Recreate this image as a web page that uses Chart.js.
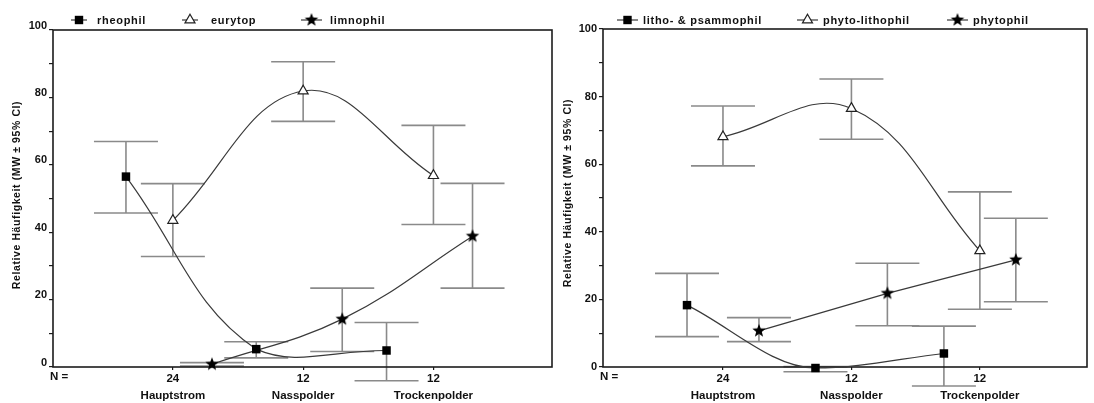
<!DOCTYPE html>
<html><head><meta charset="utf-8">
<script src="https://cdn.jsdelivr.net/npm/chart.js@4.4.1/dist/chart.umd.min.js"></script>
<style>
html,body{margin:0;padding:0;background:#fff;width:1094px;height:403px;overflow:hidden;}
canvas{position:absolute;top:0;}
#c1{left:0;}
#c2{left:560px;}
</style></head><body>
<canvas id="c1" width="560" height="403"></canvas>
<canvas id="c2" width="534" height="403"></canvas>
<script>
// ---------- data ----------
const categories = ['Hauptstrom', 'Nasspolder', 'Trockenpolder'];
const nLabels = ['24', '12', '12'];
const nPrefix = 'N =';
const yTitle = 'Relative Häufigkeit (MW ± 95% CI)';
const yMin = 0, yMax = 100, yStep = 10, yLabelStep = 20;

// left panel
const leftLabels = ['rheophil', 'eurytop', 'limnophil'];
const rheophilMean = [56.5, 5.3, 4.9];
const rheophilLow  = [45.7, 2.7, -4.1];
const rheophilHigh = [66.9, 7.5, 13.2];
const eurytopMean  = [43.5, 81.9, 56.8];
const eurytopLow   = [32.8, 72.9, 42.3];
const eurytopHigh  = [54.4, 90.6, 71.7];
const limnophilMean = [0.8, 14.2, 38.8];
const limnophilLow  = [0.3, 4.6, 23.4];
const limnophilHigh = [1.3, 23.4, 54.5];

// right panel
const rightLabels = ['litho- & psammophil', 'phyto-lithophil', 'phytophil'];
const lithoMean = [18.3, -0.3, 4.0];
const lithoLow  = [9.0, -1.4, -5.6];
const lithoHigh = [27.7, 0.1, 12.1];
const phytoLithoMean = [68.1, 76.5, 34.4];
const phytoLithoLow  = [59.5, 67.4, 17.1];
const phytoLithoHigh = [77.2, 85.2, 51.8];
const phytophilMean = [10.7, 21.8, 31.7];
const phytophilLow  = [7.5, 12.2, 19.3];
const phytophilHigh = [14.6, 30.7, 44.0];

// ---------- styling helpers ----------
const FONT = "'Liberation Sans', Arial, Helvetica, sans-serif";
const LINE_COLOR = '#3a3a3a';
const ERR_COLOR = '#8a8a8a';
const AXIS_COLOR = '#1c1c1c';

function makeStar(R) {
  const s = Math.ceil(R * 2 + 2);
  const c = document.createElement('canvas');
  c.width = s; c.height = s;
  const g = c.getContext('2d');
  g.fillStyle = '#000';
  g.beginPath();
  for (let i = 0; i < 10; i++) {
    const r = i % 2 ? R * 0.42 : R;
    const a = -Math.PI / 2 + i * Math.PI / 5;
    g.lineTo(s / 2 + r * Math.cos(a), s / 2 + r * Math.sin(a));
  }
  g.closePath(); g.fill();
  return c;
}
const STAR = makeStar(7);

const markerStyles = {
  square:   {pointStyle: 'rect', pointRadius: 6, pointBackgroundColor: '#000', pointBorderColor: '#000', pointBorderWidth: 0},
  triangle: {pointStyle: 'triangle', pointRadius: 5.8, pointBackgroundColor: '#fff', pointBorderColor: '#222', pointBorderWidth: 1.2},
  star:     {pointStyle: STAR, pointRadius: 7, pointBackgroundColor: '#000', pointBorderColor: '#000', pointBorderWidth: 0}
};

function drawMarker(ctx, kind, x, y) {
  ctx.save();
  if (kind === 'square') {
    ctx.fillStyle = '#000';
    ctx.fillRect(x - 4.2, y - 4.2, 8.4, 8.4);
  } else if (kind === 'triangle') {
    const r = 5.8;
    ctx.fillStyle = '#fff'; ctx.strokeStyle = '#222'; ctx.lineWidth = 1.2;
    ctx.beginPath();
    ctx.moveTo(x, y - r);
    ctx.lineTo(x + r * Math.sin(Math.PI / 3), y + r * 0.5);
    ctx.lineTo(x - r * Math.sin(Math.PI / 3), y + r * 0.5);
    ctx.closePath(); ctx.fill(); ctx.stroke();
  } else {
    ctx.drawImage(STAR, x - STAR.width / 2, y - STAR.height / 2);
  }
  ctx.restore();
}

// ---------- plugin: error bars, frame, legend, texts ----------
const panelPlugin = {
  id: 'panel',
  beforeDatasetsDraw(chart) {
    const ctx = chart.ctx, xs = chart.scales.x, ys = chart.scales.y;
    const pc = chart.options.plugins.panel;
    ctx.save();
    ctx.strokeStyle = ERR_COLOR;
    ctx.lineWidth = 1.6;
    pc.series.forEach(s => {
      s.mean.forEach((m, i) => {
        const x = xs.getPixelForValue(i + 1 + s.offset);
        const yl = ys.getPixelForValue(s.low[i]);
        const yh = ys.getPixelForValue(s.high[i]);
        ctx.beginPath();
        ctx.moveTo(x, yl); ctx.lineTo(x, yh);
        ctx.moveTo(x - pc.capHalf, yl); ctx.lineTo(x + pc.capHalf, yl);
        ctx.moveTo(x - pc.capHalf, yh); ctx.lineTo(x + pc.capHalf, yh);
        ctx.stroke();
      });
    });
    // frame
    const a = chart.chartArea;
    ctx.strokeStyle = AXIS_COLOR;
    ctx.lineWidth = 1.6;
    ctx.strokeRect(a.left, a.top, a.right - a.left, a.bottom - a.top);
    ctx.restore();
  },
  afterDraw(chart) {
    const ctx = chart.ctx;
    const pc = chart.options.plugins.panel;
    const a = chart.chartArea;
    ctx.save();
    // legend
    ctx.font = 'bold 11px ' + FONT;
    ctx.fillStyle = '#111';
    ctx.textBaseline = 'middle';
    ctx.textAlign = 'left';
    if ('letterSpacing' in ctx) ctx.letterSpacing = '0.7px';
    pc.series.forEach((s, i) => {
      const L = pc.legend[i];
      ctx.strokeStyle = LINE_COLOR; ctx.lineWidth = 1.2;
      ctx.beginPath(); ctx.moveTo(L.x0, pc.legendY); ctx.lineTo(L.x1, pc.legendY); ctx.stroke();
      drawMarker(ctx, s.kind, (L.x0 + L.x1) / 2, pc.legendY);
      ctx.fillStyle = '#111';
      ctx.fillText(s.label, L.tx, pc.legendY + 0.5);
    });
    // N =
    if ('letterSpacing' in ctx) ctx.letterSpacing = '0px';
    ctx.font = 'bold 11.5px ' + FONT;
    ctx.fillText(nPrefix, pc.nX, pc.nY);
    // y title
    ctx.translate(pc.titleX, pc.titleY);
    ctx.rotate(-Math.PI / 2);
    ctx.textAlign = 'center';
    ctx.font = 'bold 10.5px ' + FONT;
    if ('letterSpacing' in ctx) ctx.letterSpacing = '0.6px';
    ctx.fillText(yTitle, 0, 0);
    ctx.restore();
  }
};

function makePanel(id, p) {
  const datasets = p.series.map(s => Object.assign({
    label: s.label,
    data: s.mean.map((v, i) => ({x: i + 1 + s.offset, y: v})),
    borderColor: LINE_COLOR,
    borderWidth: 1.2,
    fill: false,
    clip: false,
    tension: s.tension,
    cubicInterpolationMode: s.mode || 'default'
  }, markerStyles[s.kind]));
  return new Chart(document.getElementById(id), {
    type: 'line',
    data: {datasets},
    plugins: [panelPlugin],
    options: {
      responsive: false,
      animation: false,
      devicePixelRatio: 1,
      layout: {padding: {top: p.top, right: p.right, bottom: 0, left: 0}},
      plugins: {
        legend: {display: false},
        tooltip: {enabled: false},
        panel: p
      },
      scales: {
        x: {
          type: 'linear', min: p.xMin, max: p.xMax,
          afterBuildTicks: s => { s.ticks = categories.map((c, i) => ({value: i + 1})); },
          afterFit: s => { s.height = 36; },
          ticks: {
            autoSkip: false, maxRotation: 0, padding: 0,
            color: '#111',
            font: {family: FONT, size: 11.5, weight: 'bold', lineHeight: 1.48},
            callback: (v, i) => [nLabels[i], categories[i]]
          },
          grid: {drawOnChartArea: false, drawTicks: true, tickLength: 3, color: AXIS_COLOR, lineWidth: 1.2},
          border: {display: false}
        },
        y: {
          min: yMin, max: yMax,
          afterFit: s => { s.width = p.yWidth; },
          ticks: {
            stepSize: yStep, autoSkip: false, padding: 2,
            labelOffset: p.labelOffset,
            color: '#111',
            font: {family: FONT, size: 11, weight: 'bold'},
            callback: v => (v % yLabelStep === 0 ? String(v) : '')
          },
          grid: {drawOnChartArea: false, drawTicks: true, tickLength: 4, color: AXIS_COLOR, lineWidth: 1.2},
          border: {display: false}
        }
      }
    }
  });
}

makePanel('c1', {
  top: 30, right: 8, yWidth: 53, xMin: 0.08, xMax: 3.91, labelOffset: -4.5,
  capHalf: 32, legendY: 20,
  legend: [{x0: 71, x1: 87, tx: 97}, {x0: 182, x1: 198, tx: 211}, {x0: 301, x1: 322, tx: 330}],
  nX: 50, nY: 377, titleX: 17, titleY: 195,
  series: [
    {label: leftLabels[0], kind: 'square', mean: rheophilMean, low: rheophilLow, high: rheophilHigh, offset: -0.36, tension: 0.4},
    {label: leftLabels[1], kind: 'triangle', mean: eurytopMean, low: eurytopLow, high: eurytopHigh, offset: 0, tension: 0.4},
    {label: leftLabels[2], kind: 'star', mean: limnophilMean, low: limnophilLow, high: limnophilHigh, offset: 0.30, tension: 0.4}
  ]
});

makePanel('c2', {
  top: 29, right: 3, yWidth: 43, xMin: 0.066, xMax: 3.834, labelOffset: 0,
  capHalf: 32, legendY: 20,
  legend: [{x0: 57, x1: 78, tx: 83}, {x0: 237, x1: 258, tx: 263}, {x0: 387, x1: 408, tx: 413}],
  nX: 40, nY: 377, titleX: 8, titleY: 193,
  series: [
    {label: rightLabels[0], kind: 'square', mean: lithoMean, low: lithoLow, high: lithoHigh, offset: -0.28, tension: 0.4, mode: 'monotone'},
    {label: rightLabels[1], kind: 'triangle', mean: phytoLithoMean, low: phytoLithoLow, high: phytoLithoHigh, offset: 0, tension: 0.4},
    {label: rightLabels[2], kind: 'star', mean: phytophilMean, low: phytophilLow, high: phytophilHigh, offset: 0.28, tension: 0}
  ]
});
</script>
</body></html>
